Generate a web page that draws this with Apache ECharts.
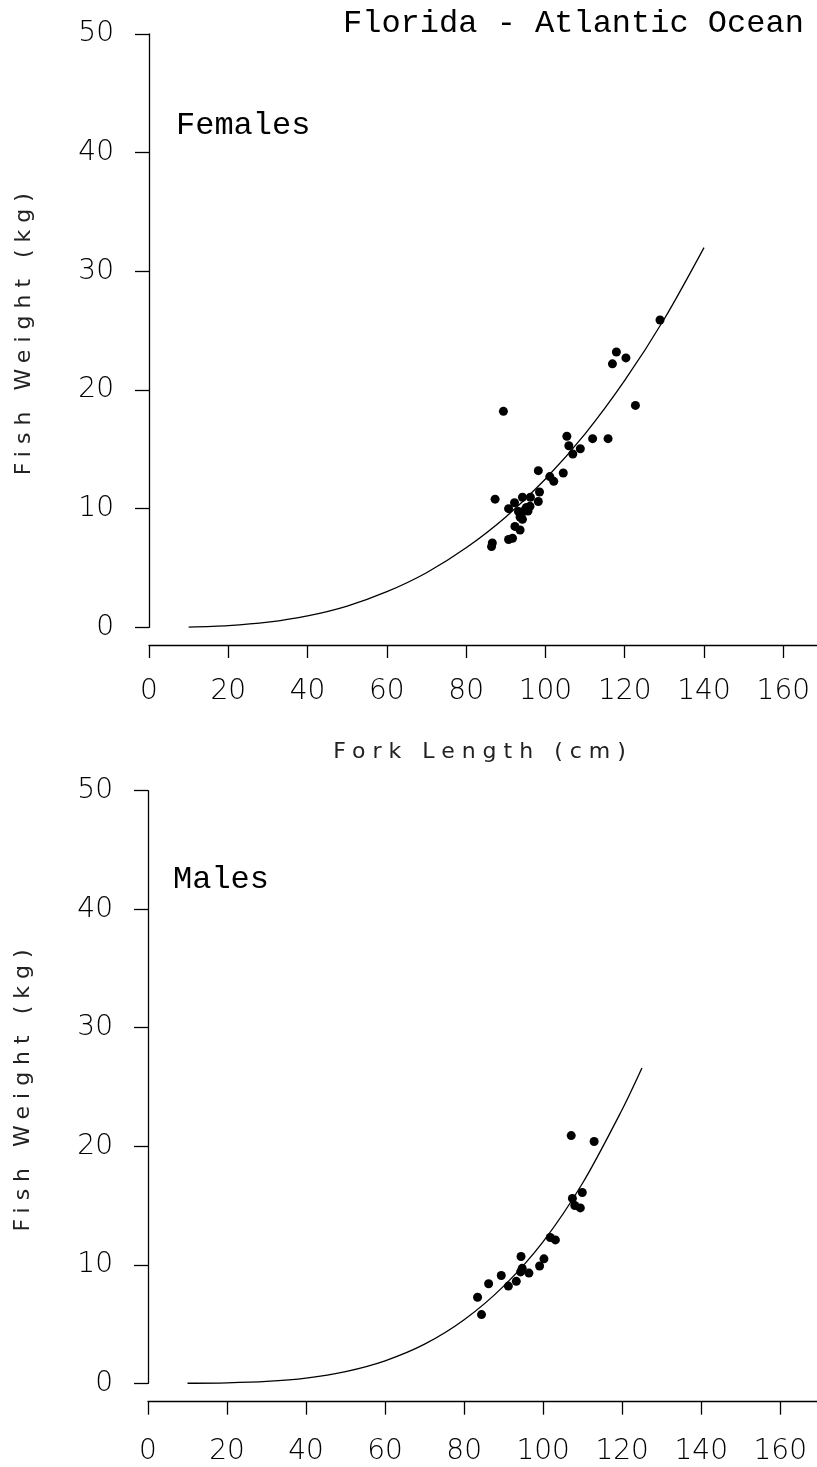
<!DOCTYPE html>
<html>
<head>
<meta charset="utf-8">
<script src="https://cdn.jsdelivr.net/npm/echarts@6/dist/echarts.min.js"></script>
<style>
html,body{margin:0;padding:0;background:#fff;}
#chart{width:817px;height:1467px;}
</style>
</head>
<body>
<div id="chart"></div>
<script>
// ---- data ----
const title = 'Florida - Atlantic Ocean';
const panelLabels = ['Females', 'Males'];
const xTickValues = [0, 20, 40, 60, 80, 100, 120, 140, 160];
const yTickValues = [0, 10, 20, 30, 40, 50];
const xName = 'Fork Length (cm)';
const yName = 'Fish Weight (kg)';

// fitted curve, females (fork length cm, weight kg)
const femaleCurveL = [10, 20, 30, 40, 50, 60, 70, 80, 90, 100, 110, 120, 130, 140];
const femaleCurveW = [0.02, 0.14, 0.43, 0.96, 1.79, 3.0, 4.6, 6.7, 9.3, 12.5, 16.3, 20.8, 26.0, 32.0];
// observed females
const femaleL = [128.9, 117.9, 120.3, 116.9, 122.7, 89.4, 105.4, 111.9, 115.8, 105.9, 108.8, 106.9,
  98.2, 104.5, 101.1, 102.1, 98.5, 87.3, 94.2, 96.2, 92.2, 98.2, 90.7, 95.2, 96.1, 93.2, 94.0,
  93.6, 94.2, 92.3, 93.6, 91.7, 90.7, 86.6, 86.4, 94.8, 95.6];
const femaleW = [25.9, 23.2, 22.7, 22.2, 18.7, 18.2, 16.1, 15.9, 15.9, 15.3, 15.05, 14.6,
  13.2, 13.0, 12.7, 12.3, 11.4, 10.8, 10.96, 10.96, 10.5, 10.6, 10.0, 10.1, 10.2, 9.75, 9.6,
  9.3, 9.1, 8.5, 8.2, 7.5, 7.4, 7.1, 6.8, 9.9, 9.8];

// fitted curve, males
const maleCurveL = [10, 20, 30, 40, 50, 60, 70, 80, 90, 100, 110, 120, 125];
const maleCurveW = [0.003, 0.04, 0.16, 0.44, 0.99, 1.9, 3.3, 5.36, 8.2, 11.96, 16.9, 23.1, 26.6];
// observed males
const maleL = [107.1, 112.9, 109.9, 107.4, 108.0, 109.4, 101.8, 103.1, 94.4, 100.2, 99.1, 94.7,
  94.3, 96.4, 89.4, 93.2, 91.2, 86.2, 83.4, 84.4];
const maleW = [20.9, 20.4, 16.1, 15.6, 15.0, 14.8, 12.3, 12.1, 10.7, 10.5, 9.9, 9.7,
  9.4, 9.3, 9.1, 8.6, 8.2, 8.4, 7.26, 5.8];

// ---- wide tracking for the axis names only (reference uses a widely spaced plotter font) ----
(function () {
  const proto = CanvasRenderingContext2D.prototype;
  const orig = proto.fillText;
  proto.fillText = function (t, x, y, m) {
    const f = this.font || '';
    if ('letterSpacing' in this) {
      this.letterSpacing = f.indexOf('SpacedName') >= 0 ? '7px' : '0px';
    }
    const r = m === undefined ? orig.call(this, t, x, y) : orig.call(this, t, x, y, m);
    if ('letterSpacing' in this) this.letterSpacing = '0px';
    return r;
  };
})();

// ---- build ----
const zip = (a, b) => a.map((v, i) => [v, b[i]]);
const ink = '#000';
const tickFont = {fontFamily: 'DejaVu Sans', fontWeight: 200, fontSize: 28, color: ink};
const nameFont = {fontFamily: '"DejaVu Sans", SpacedName', fontWeight: 'normal', fontSize: 22, color: '#222'};
const lineStyle = {color: ink, width: 1.3};

function hiddenX(gi, max) {
  return {gridIndex: gi, type: 'value', min: 0, max: max, show: false};
}
function hiddenY(gi) {
  return {gridIndex: gi, type: 'value', min: 0, max: 50, show: false};
}
function shownX(gi, max, withName, margin) {
  return {
    gridIndex: gi, type: 'value', min: 0, max: max, position: 'bottom',
    splitLine: {show: false},
    axisLine: {show: true, lineStyle: lineStyle},
    axisTick: {show: true, length: 13, lineStyle: lineStyle, customValues: xTickValues},
    axisLabel: Object.assign({margin: margin, customValues: xTickValues}, tickFont),
    name: withName ? xName : '', nameLocation: 'middle', nameGap: 96, nameTextStyle: nameFont
  };
}
function shownY(gi) {
  return {
    gridIndex: gi, type: 'value', min: 0, max: 50, interval: 10,
    splitLine: {show: false},
    axisLine: {show: true, lineStyle: lineStyle},
    axisTick: {show: true, length: 14, lineStyle: lineStyle, customValues: yTickValues},
    axisLabel: Object.assign({margin: 35, customValues: yTickValues}, tickFont),
    name: yName, nameLocation: 'middle', nameGap: 114, nameRotate: 90, nameTextStyle: nameFont
  };
}

const topMax = 168.5, botMax = 169.3;
const chart = echarts.init(document.getElementById('chart'), null, {renderer: 'canvas'});
chart.setOption({
  animation: false,
  backgroundColor: '#fff',
  grid: [
    {left: 149, top: 34, width: 668, height: 593.3},
    {left: 149, top: 644, width: 668, height: 1},
    {left: 148, top: 790.7, width: 669, height: 592.6},
    {left: 148, top: 1400.7, width: 669, height: 1}
  ],
  xAxis: [hiddenX(0, topMax), shownX(1, topMax, true, 33), hiddenX(2, botMax), shownX(3, botMax, false, 36)],
  yAxis: [shownY(0), hiddenY(1), shownY(2), hiddenY(3)],
  graphic: [
    {type: 'text', left: 343, top: 8, style: {text: title, font: '32px "Liberation Mono"', fill: ink}},
    {type: 'text', left: 176, top: 110, style: {text: panelLabels[0], font: '32px "Liberation Mono"', fill: ink}},
    {type: 'text', left: 173, top: 864, style: {text: panelLabels[1], font: '32px "Liberation Mono"', fill: ink}}
  ],
  series: [
    {type: 'line', xAxisIndex: 0, yAxisIndex: 0, data: zip(femaleCurveL, femaleCurveW),
      smooth: 0.3, showSymbol: false, lineStyle: {color: ink, width: 1.3}},
    {type: 'scatter', xAxisIndex: 0, yAxisIndex: 0, data: zip(femaleL, femaleW),
      symbolSize: 9, itemStyle: {color: ink, opacity: 1}},
    {type: 'line', xAxisIndex: 2, yAxisIndex: 2, data: zip(maleCurveL, maleCurveW),
      smooth: 0.3, showSymbol: false, lineStyle: {color: ink, width: 1.3}},
    {type: 'scatter', xAxisIndex: 2, yAxisIndex: 2, data: zip(maleL, maleW),
      symbolSize: 9, itemStyle: {color: ink, opacity: 1}}
  ]
});
</script>
</body>
</html>
